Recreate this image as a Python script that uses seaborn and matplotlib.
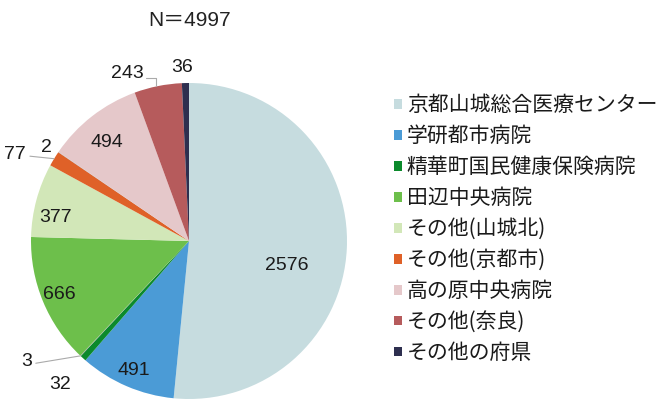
import numpy as np
import seaborn as sns
import matplotlib.pyplot as plt

# slices clockwise from the top; two tiny unnamed slices (3 and 2) are not in the legend
categories = ['京都山城総合医療センター', '学研都市病院', '精華町国民健康保険病院', '',
              '田辺中央病院', 'その他(山城北)', 'その他(京都市)', '',
              '高の原中央病院', 'その他(奈良)', 'その他の府県']
counts = [2576, 491, 32, 3, 666, 377, 77, 2, 494, 243, 36]
colors = ['#c6dcdf', '#4b9bd6', '#0b8a2c', '#a0a0a0', '#6dbf4b', '#d2e7b8',
          '#df6128', '#a0a0a0', '#e5c8ca', '#b65b5c', '#2e2f4f']
total = sum(counts)

# label placement (radius factor, angle shift in degrees) and leader style
label_r = [0.64, 0.89, 1.22, 1.28, 0.89, 0.86, 1.23, 1.08, 0.81, 1.13, 1.10]
label_shift = [11, 0, 0, 10, 0, -5, -5, -1, -2, -9, -1]
leader = [None, None, None, 'straight', None, None, 'straight', None, None, 'elbow', None]

sns.set_theme(style='white')
plt.rcParams['font.family'] = ['Noto Sans CJK JP', 'DejaVu Sans']
num_font = ['Liberation Sans', 'Noto Sans CJK JP']

fig = plt.figure(figsize=(6.65, 4.01), dpi=100)
ax = fig.add_axes([31 / 665, 2 / 401, 316 / 665, 316 / 401])

wedges, _ = ax.pie(counts, colors=colors, startangle=90, counterclock=False,
                   wedgeprops={'linewidth': 0})
ax.set_xlim(-1, 1)
ax.set_ylim(-1, 1)
ax.set_aspect('equal')
ax.axis('off')

for w, n, r, sh, ld in zip(wedges, counts, label_r, label_shift, leader):
    mid = np.deg2rad((w.theta1 + w.theta2) / 2)
    ang = np.deg2rad(np.rad2deg(mid) - sh)
    lx, ly = r * np.cos(ang), r * np.sin(ang)
    ax.text(lx, ly, str(n), ha='center', va='center', fontsize=14,
            family=num_font, color='#1a1a1a', clip_on=False)
    ex, ey = np.cos(mid), np.sin(mid)
    if ld == 'straight':
        sx = lx + 0.075 * len(str(n)) / 2 + 0.02
        ax.plot([sx, ex], [ly - 0.01, ey], color='#aaaaaa', lw=0.8, clip_on=False)
    elif ld == 'elbow':
        sx = lx + 0.12
        ax.plot([sx, ex - 0.01, ex - 0.01], [ly - 0.03, ly - 0.03, ey],
                color='#aaaaaa', lw=0.8, clip_on=False)

fig.text(190 / 665, 1 - 20 / 401, 'N＝4997', ha='center', va='center',
         fontsize=15, family=num_font, color='#222222')

handles = [w for w, c in zip(wedges, categories) if c]
names = [c for c in categories if c]
leg = fig.legend(handles, names, loc='upper left', bbox_to_anchor=(386 / 665, 1 - 86 / 401),
                 frameon=False, fontsize=15, handlelength=0.35, handleheight=0.35,
                 handletextpad=0.25, labelspacing=0.43, borderaxespad=0)
for t in leg.get_texts():
    t.set_color('#1a1a1a')

fig.savefig('out.png', dpi=100)
